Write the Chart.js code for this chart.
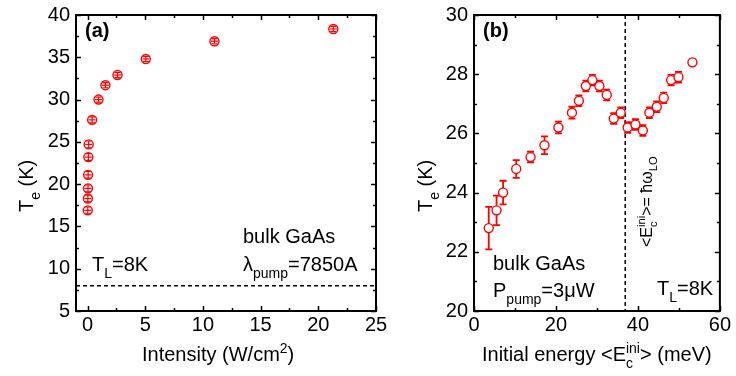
<!DOCTYPE html>
<html><head><meta charset="utf-8">
<script src="https://cdn.jsdelivr.net/npm/chart.js@4.4.0/dist/chart.umd.min.js"></script>
<style>
html,body{margin:0;padding:0;background:#fff;width:736px;height:376px;overflow:hidden}
canvas{position:absolute;left:0;top:0}
</style></head>
<body>
<canvas id="ca" width="736" height="376"></canvas>
<canvas id="cb" width="736" height="376"></canvas>
<script>
// ---- Panel (a) data ----
const intensity = [0.02, 0.03, 0.04, 0.05, 0.07, 0.10, 0.40, 0.95, 1.55, 2.60, 5.05, 11.0, 21.3];
const teA       = [16.9, 18.3, 19.5, 21.1, 23.2, 24.7, 27.6, 30.0, 31.7, 32.9, 34.8, 36.9, 38.35];
const teAErr    = [0.4, 0.4, 0.4, 0.4, 0.4, 0.4, 0.35, 0.3, 0.3, 0.3, 0.3, 0.3, 0.3];
const intErr    = [0.3, 0.3, 0.3, 0.3, 0.3, 0.3, 0.3, 0.3, 0.3, 0.3, 0.3, 0.3, 0.3];
const xTicksA = [0, 5, 10, 15, 20, 25];
const xMinorA = [2.5, 7.5, 12.5, 17.5, 22.5];
const yTicksA = [5, 10, 15, 20, 25, 30, 35, 40];
const yMinorA = [7.5, 12.5, 17.5, 22.5, 27.5, 32.5, 37.5];
const latticeT = 8;

// ---- Panel (b) data ----
const energy = [3.6, 5.5, 7.1, 10.3, 13.8, 17.2, 20.6, 23.9, 25.6, 27.3, 28.9, 30.6, 32.4, 34.1, 35.8, 37.5, 39.4, 41.2, 42.8, 44.6, 46.3, 48.1, 49.9, 53.3];
const teB    = [22.8, 23.4, 24.0, 24.8, 25.2, 25.6, 26.2, 26.7, 27.1, 27.6, 27.8, 27.6, 27.3, 26.5, 26.7, 26.2, 26.3, 26.1, 26.7, 26.9, 27.2, 27.8, 27.9, 28.4];
const teBErr = [0.72, 0.5, 0.4, 0.3, 0.18, 0.3, 0.2, 0.2, 0.18, 0.18, 0.18, 0.18, 0.18, 0.18, 0.18, 0.18, 0.18, 0.18, 0.18, 0.18, 0.18, 0.18, 0.18, 0.1];
const xTicksB = [0, 20, 40, 60];
const xMinorB = [10, 30, 50];
const yTicksB = [20, 22, 24, 26, 28, 30];
const yMinorB = [21, 23, 25, 27, 29];
const loPhononE = 36.9;

const FONT = '"Liberation Sans", Arial, Helvetica, sans-serif';
const RED = '#ff0000';

function setFont(ctx, size, bold){ ctx.font = (bold ? 'bold ' : '') + size + 'px ' + FONT; }

// rich text: parts = [{t}, {sub}, {sup}, {sup, sub} stacked]
function rich(ctx, x, y, parts, fs, bold){
  let cx = x;
  ctx.textBaseline = 'alphabetic';
  ctx.textAlign = 'left';
  const ss = fs * 0.7;
  for (const p of parts){
    if (p.t !== undefined){
      setFont(ctx, fs, bold); ctx.fillText(p.t, cx, y); cx += ctx.measureText(p.t).width;
    } else {
      setFont(ctx, ss, bold);
      let w = 0;
      if (p.sup !== undefined){ ctx.fillText(p.sup, cx, y - fs*0.42); w = Math.max(w, ctx.measureText(p.sup).width); }
      if (p.sub !== undefined){ ctx.fillText(p.sub, cx, y + fs*0.33); w = Math.max(w, ctx.measureText(p.sub).width); }
      cx += w;
    }
  }
  return cx;
}

function frameTicks(chart, xMaj, xMin, yMaj, yMin){
  const {ctx, chartArea:a, scales:{x, y}} = chart;
  ctx.save();
  ctx.strokeStyle = '#000';
  ctx.lineWidth = 1.5;
  const L = 5, l = 3;
  const vt = (vals, len) => vals.forEach(v => {
    const p = Math.round(x.getPixelForValue(v)) + 0.5;
    ctx.beginPath();
    ctx.moveTo(p, a.bottom); ctx.lineTo(p, a.bottom - len);
    ctx.moveTo(p, a.top); ctx.lineTo(p, a.top + len);
    ctx.stroke();
  });
  const ht = (vals, len) => vals.forEach(v => {
    const p = Math.round(y.getPixelForValue(v)) + 0.5;
    ctx.beginPath();
    ctx.moveTo(a.left, p); ctx.lineTo(a.left + len, p);
    ctx.moveTo(a.right, p); ctx.lineTo(a.right - len, p);
    ctx.stroke();
  });
  vt(xMaj, L); vt(xMin, l); ht(yMaj, L); ht(yMin, l);
  ctx.lineWidth = 2;
  ctx.strokeRect(a.left, a.top, a.right - a.left, a.bottom - a.top);
  ctx.restore();
}

function drawErr(chart, xs, ys, yErr, xErr, cap, lw){
  const {ctx, scales:{x, y}} = chart;
  ctx.save();
  ctx.strokeStyle = RED; ctx.lineWidth = lw;
  for (let i = 0; i < xs.length; i++){
    const px = x.getPixelForValue(xs[i]), py = y.getPixelForValue(ys[i]);
    if (yErr){
      const y1 = y.getPixelForValue(ys[i] + yErr[i]), y2 = y.getPixelForValue(ys[i] - yErr[i]);
      ctx.beginPath();
      ctx.moveTo(px, y1); ctx.lineTo(px, y2);
      ctx.moveTo(px - cap, y1); ctx.lineTo(px + cap, y1);
      ctx.moveTo(px - cap, y2); ctx.lineTo(px + cap, y2);
      ctx.stroke();
    }
    if (xErr){
      const x1 = x.getPixelForValue(xs[i] - xErr[i]), x2 = x.getPixelForValue(xs[i] + xErr[i]);
      ctx.beginPath(); ctx.moveTo(x1, py); ctx.lineTo(x2, py); ctx.stroke();
    }
  }
  ctx.restore();
}

function axisCfg(min, max, ticks, isY, size){
  return {
    type: 'linear', min, max,
    grid: {display: false, drawTicks: false},
    border: {display: false},
    ticks: {font: {family: FONT, size: 20, lineHeight: 0.9}, color: '#000', padding: isY ? 6 : 5,
            maxRotation: 0, minRotation: 0, autoSkip: false},
    afterBuildTicks: s => { s.ticks = ticks.map(v => ({value: v})); },
    afterFit: s => { if (isY) s.width = size; else s.height = size; }
  };
}

// ---- Chart (a) ----
new Chart(document.getElementById('ca'), {
  type: 'scatter',
  data: {datasets: [{
    data: intensity.map((v, i) => ({x: v, y: teA[i]})),
    pointStyle: 'circle', pointRadius: 4.5, pointBorderWidth: 1.4,
    pointBorderColor: RED, pointBackgroundColor: '#fff', showLine: false
  }]},
  options: {
    responsive: false, animation: false, devicePixelRatio: 1,
    layout: {padding: {left: 0, right: 360, top: 9, bottom: 0}},
    plugins: {legend: {display: false}, tooltip: {enabled: false}},
    scales: {x: axisCfg(-1, 25, xTicksA, false, 65), y: axisCfg(5, 40, yTicksA, true, 76)}
  },
  plugins: [{
    id: 'decoA',
    beforeDatasetsDraw(chart){
      const {ctx, chartArea:a, scales:{y}} = chart;
      const py = y.getPixelForValue(latticeT);
      ctx.save(); ctx.strokeStyle = '#000'; ctx.lineWidth = 1.5; ctx.setLineDash([4, 3]);
      ctx.beginPath(); ctx.moveTo(a.left, py); ctx.lineTo(a.right, py); ctx.stroke(); ctx.restore();
    },
    afterDatasetsDraw(chart){
      drawErr(chart, intensity, teA, teAErr, intErr, 3, 1.2);
    },
    afterDraw(chart){
      const ctx = chart.ctx;
      frameTicks(chart, xTicksA, xMinorA, yTicksA, yMinorA);
      ctx.save(); ctx.fillStyle = '#000';
      rich(ctx, 85, 37, [{t: '(a)'}], 20, true);
      rich(ctx, 243, 243, [{t: 'bulk GaAs'}], 20);
      rich(ctx, 243, 271, [{t: 'λ'}, {sub: 'pump'}, {t: '=7850A'}], 20);
      rich(ctx, 92, 271, [{t: 'T'}, {sub: 'L'}, {t: '=8K'}], 20);
      rich(ctx, 142, 361, [{t: 'Intensity (W/cm'}, {sup: '2'}, {t: ')'}], 20);
      ctx.save(); ctx.translate(33, 212); ctx.rotate(-Math.PI/2);
      rich(ctx, 0, 0, [{t: 'T'}, {sub: 'e'}, {t: ' (K)'}], 20);
      ctx.restore();
      ctx.restore();
    }
  }]
});

// ---- Chart (b) ----
new Chart(document.getElementById('cb'), {
  type: 'scatter',
  data: {datasets: [{
    data: energy.map((v, i) => ({x: v, y: teB[i]})),
    pointStyle: 'circle', pointRadius: 4.5, pointBorderWidth: 1.4,
    pointBorderColor: RED, pointBackgroundColor: '#fff', showLine: false
  }]},
  options: {
    responsive: false, animation: false, devicePixelRatio: 1,
    layout: {padding: {left: 390, right: 12, top: 9, bottom: 0}},
    plugins: {legend: {display: false}, tooltip: {enabled: false}},
    scales: {x: axisCfg(0, 60, xTicksB, false, 65), y: axisCfg(20, 30, yTicksB, true, 84)}
  },
  plugins: [{
    id: 'decoB',
    beforeDatasetsDraw(chart){
      const {ctx, chartArea:a, scales:{x}} = chart;
      const px = x.getPixelForValue(loPhononE);
      ctx.save(); ctx.strokeStyle = '#000'; ctx.lineWidth = 1.5; ctx.setLineDash([4, 3]);
      ctx.beginPath(); ctx.moveTo(px, a.top); ctx.lineTo(px, a.bottom); ctx.stroke(); ctx.restore();
      drawErr(chart, energy, teB, teBErr, null, 3.5, 1.8);
    },
    afterDraw(chart){
      const ctx = chart.ctx;
      frameTicks(chart, xTicksB, xMinorB, yTicksB, yMinorB);
      ctx.save(); ctx.fillStyle = '#000';
      rich(ctx, 483, 37, [{t: '(b)'}], 20, true);
      rich(ctx, 493, 270, [{t: 'bulk GaAs'}], 20);
      rich(ctx, 493, 297, [{t: 'P'}, {sub: 'pump'}, {t: '=3μW'}], 20);
      rich(ctx, 657, 295, [{t: 'T'}, {sub: 'L'}, {t: '=8K'}], 20);
      rich(ctx, 482, 361, [{t: 'Initial energy <E'}, {sup: 'ini', sub: 'c'}, {t: '> (meV)'}], 20);
      ctx.save(); ctx.translate(432, 212); ctx.rotate(-Math.PI/2);
      rich(ctx, 0, 0, [{t: 'T'}, {sub: 'e'}, {t: ' (K)'}], 20);
      ctx.restore();
      ctx.save(); ctx.translate(652, 247); ctx.rotate(-Math.PI/2);
      rich(ctx, 0, 0, [{t: '<E'}, {sup: 'ini', sub: 'c'}, {t: '>= ħω'}, {sub: 'LO'}], 16);
      ctx.restore();
      ctx.restore();
    }
  }]
});
</script>
</body></html>
